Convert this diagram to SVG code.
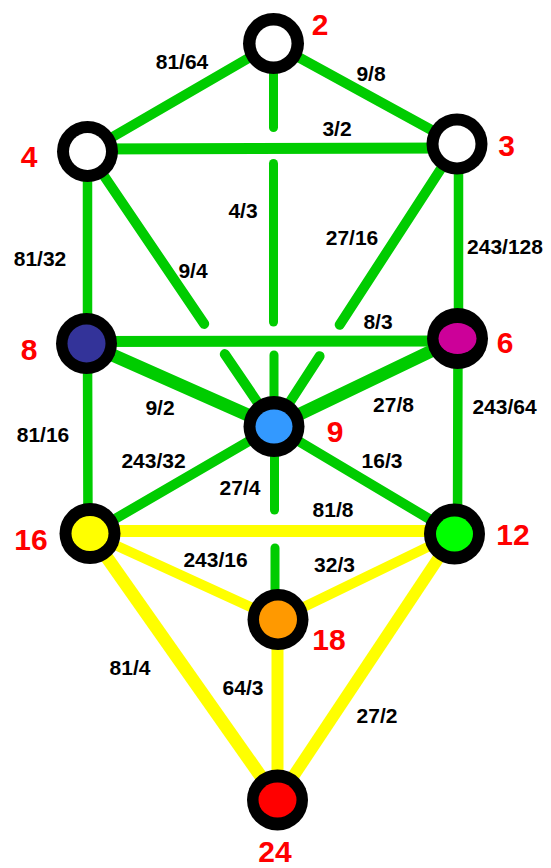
<svg xmlns="http://www.w3.org/2000/svg" width="551" height="868" viewBox="0 0 551 868">
<style>
.g{stroke:#00CC00;stroke-linecap:round;fill:none}
.y{stroke:#FFFF00;fill:none}
.ring{fill:#000}
.lbl{font-family:"Liberation Sans",Arial,sans-serif;font-weight:bold;font-size:21px;fill:#000;text-anchor:middle}
.num{font-family:"Liberation Sans",Arial,sans-serif;font-weight:bold;font-size:30px;fill:#FF0000;text-anchor:middle}
</style>
<rect width="551" height="868" fill="#fff"/>
<g id="connectors">
<line class="g" x1="273.5" y1="43.5" x2="87.5" y2="151.5" stroke-width="10"/>
<line class="g" x1="273.5" y1="43.5" x2="457" y2="144" stroke-width="10"/>
<line class="g" x1="87.5" y1="149" x2="457" y2="148" stroke-width="11"/>
<line class="g" x1="273.5" y1="43.5" x2="273.5" y2="127.5" stroke-width="9"/>
<line class="g" x1="273.5" y1="163.5" x2="273.5" y2="322" stroke-width="9"/>
<line class="g" x1="274" y1="355" x2="274" y2="426.5" stroke-width="9"/>
<line class="g" x1="87.5" y1="151.5" x2="87.5" y2="343.5" stroke-width="9.5"/>
<line class="g" x1="458.5" y1="144" x2="458.5" y2="338.5" stroke-width="9.5"/>
<line class="g" x1="87.5" y1="151.5" x2="204.2" y2="323.9" stroke-width="10"/>
<line class="g" x1="224.8" y1="354.1" x2="274" y2="426.5" stroke-width="10"/>
<line class="g" x1="457" y1="144" x2="339.7" y2="324.8" stroke-width="10"/>
<line class="g" x1="319.6" y1="356.2" x2="274" y2="426.5" stroke-width="10"/>
<line class="g" x1="86.5" y1="341.5" x2="457.5" y2="341" stroke-width="11"/>
<line class="g" x1="86.5" y1="343.5" x2="274" y2="426.5" stroke-width="13"/>
<line class="g" x1="457.5" y1="338.5" x2="274" y2="426.5" stroke-width="13"/>
<line class="g" x1="87.5" y1="343.5" x2="88" y2="533.5" stroke-width="9.5"/>
<line class="g" x1="458" y1="338.5" x2="457.5" y2="534" stroke-width="9.5"/>
<line class="g" x1="274" y1="426.5" x2="90" y2="533.5" stroke-width="10"/>
<line class="g" x1="274" y1="426.5" x2="454.5" y2="534" stroke-width="10"/>
<line class="g" x1="274.5" y1="426.5" x2="274.5" y2="510" stroke-width="9"/>
<line class="g" x1="275" y1="548" x2="275" y2="619.5" stroke-width="9"/>
<line class="y" x1="90" y1="531" x2="454.5" y2="531" stroke-width="12"/>
<line class="y" x1="90" y1="533.5" x2="278" y2="619.5" stroke-width="10"/>
<line class="y" x1="454.5" y1="534" x2="278" y2="619.5" stroke-width="10"/>
<line class="y" x1="90" y1="533.5" x2="277.5" y2="800" stroke-width="13"/>
<line class="y" x1="277.5" y1="619.5" x2="277.5" y2="800" stroke-width="12"/>
<line class="y" x1="454.5" y1="534" x2="277.5" y2="800" stroke-width="12"/>
</g>
<g id="edge-labels">
<text class="lbl" x="182" y="69">81/64</text>
<text class="lbl" x="371" y="81">9/8</text>
<text class="lbl" x="337" y="136">3/2</text>
<text class="lbl" x="243" y="218">4/3</text>
<text class="lbl" x="352" y="245">27/16</text>
<text class="lbl" x="40" y="266">81/32</text>
<text class="lbl" x="193" y="278">9/4</text>
<text class="lbl" x="505" y="254">243/128</text>
<text class="lbl" x="378" y="329">8/3</text>
<text class="lbl" x="160" y="415">9/2</text>
<text class="lbl" x="393.5" y="412">27/8</text>
<text class="lbl" x="43" y="442">81/16</text>
<text class="lbl" x="504.5" y="414">243/64</text>
<text class="lbl" x="153.5" y="468">243/32</text>
<text class="lbl" x="382" y="468">16/3</text>
<text class="lbl" x="240" y="495">27/4</text>
<text class="lbl" x="333" y="517">81/8</text>
<text class="lbl" x="215.5" y="567">243/16</text>
<text class="lbl" x="334.5" y="572">32/3</text>
<text class="lbl" x="130" y="675">81/4</text>
<text class="lbl" x="243" y="695">64/3</text>
<text class="lbl" x="377" y="723">27/2</text>
</g>
<g id="node-2"><circle class="ring" cx="273.5" cy="43.5" r="30.5"/><circle cx="273.5" cy="43.5" r="18" fill="#fff"/><text class="num" x="320" y="35">2</text></g>
<g id="node-4"><circle class="ring" cx="87.5" cy="151.5" r="30.5"/><circle cx="87.5" cy="151.5" r="18.5" fill="#fff"/><text class="num" x="29" y="167">4</text></g>
<g id="node-3"><circle class="ring" cx="457" cy="144" r="30.5"/><circle cx="457" cy="144" r="18.5" fill="#fff"/><text class="num" x="506.5" y="156">3</text></g>
<g id="node-8"><circle class="ring" cx="86.5" cy="343.5" r="30.5"/><circle cx="86.5" cy="343.5" r="19" fill="#333399"/><text class="num" x="29" y="360">8</text></g>
<g id="node-6"><circle class="ring" cx="457.5" cy="338.5" r="30.5"/><ellipse cx="457.5" cy="338.5" rx="19" ry="15.5" fill="#CC0099"/><text class="num" x="505" y="353">6</text></g>
<g id="node-9"><circle class="ring" cx="274" cy="426.5" r="30.5"/><ellipse cx="274" cy="426.5" rx="18.5" ry="17" fill="#3399FF"/><text class="num" x="335" y="442">9</text></g>
<g id="node-16"><circle class="ring" cx="90" cy="533.5" r="30.5"/><ellipse cx="90" cy="533.5" rx="18.5" ry="17.5" fill="#FFFF00"/><text class="num" x="31" y="550">16</text></g>
<g id="node-12"><circle class="ring" cx="454.5" cy="534" r="30.5"/><ellipse cx="454.5" cy="534" rx="18.5" ry="17.5" fill="#00FF00"/><text class="num" x="513" y="545">12</text></g>
<g id="node-18"><circle class="ring" cx="278" cy="619.5" r="30.5"/><circle cx="278" cy="619.5" r="19" fill="#FF9900"/><text class="num" x="329" y="650">18</text></g>
<g id="node-24"><circle class="ring" cx="277.5" cy="800" r="30.5"/><ellipse cx="277.5" cy="800" rx="19" ry="17.5" fill="#FF0000"/><text class="num" x="275" y="862" font-size="29">24</text></g>
</svg>
